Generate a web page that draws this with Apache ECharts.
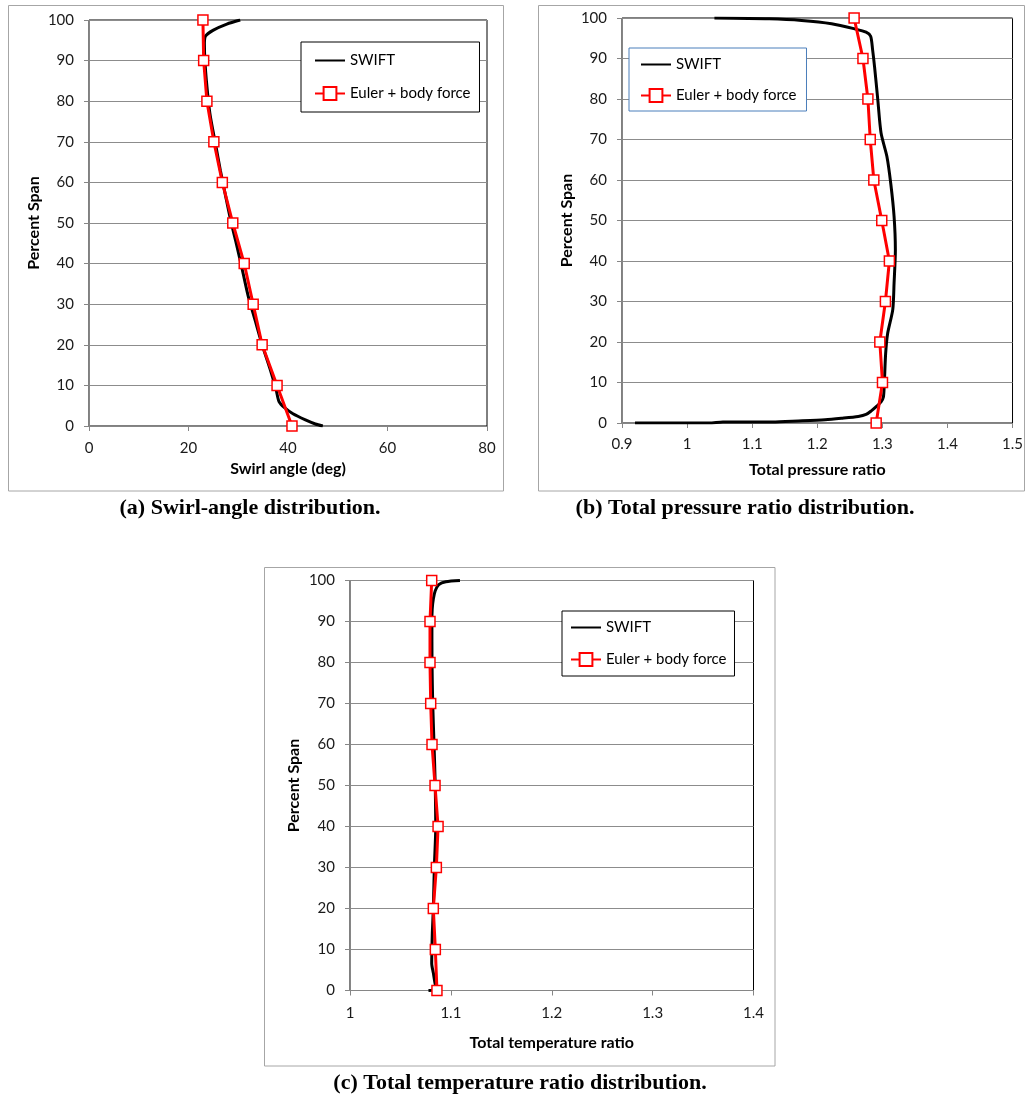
<!DOCTYPE html>
<html>
<head>
<meta charset="utf-8">
<script src="https://cdn.jsdelivr.net/npm/echarts@6/dist/echarts.min.js"></script>
<style>
html,body{margin:0;padding:0;background:#fff;}
#chart{width:1026px;height:1099px;}
</style>
</head>
<body>
<div id="chart"></div>
<script>
// ---------- data ----------
const eulerSpan = [0, 10, 20, 30, 40, 50, 60, 70, 80, 90, 100];

// (a) swirl angle (deg)
const swirlEuler = [40.8, 37.8, 34.8, 33.0, 31.2, 28.9, 26.8, 25.1, 23.7, 23.05, 22.9];
const swirlSwiftX = [47.0, 45.5, 43.5, 41.0, 39.3, 38.2, 37.6, 36.4, 34.8, 33.4, 32.0, 30.9, 29.6, 28.6, 27.4, 26.4, 25.5, 24.3, 23.6, 23.3, 23.2, 23.4, 25.0, 27.7, 30.4];
const swirlSwiftY = [0, 0.5, 1.5, 3, 4.5, 6, 9, 14, 20, 26, 32, 38, 45, 50, 57, 63, 69, 77, 85, 90, 94, 96, 97.5, 99, 100];

// (b) total pressure ratio
const prEuler = [1.2905, 1.3002, 1.2961, 1.3047, 1.3108, 1.2991, 1.2869, 1.2814, 1.2778, 1.2702, 1.2566];
const prSwiftX = [0.92, 1.034, 1.055, 1.131, 1.171, 1.212, 1.237, 1.263, 1.275, 1.283, 1.291, 1.298, 1.3016, 1.303, 1.305, 1.308, 1.316, 1.318, 1.320, 1.318, 1.313, 1.307, 1.298, 1.293, 1.288, 1.285, 1.282, 1.275, 1.258, 1.222, 1.176, 1.126, 1.042];
const prSwiftY = [0, 0, 0.25, 0.25, 0.5, 0.8, 1.15, 1.6, 2.1, 3, 4.1, 5.2, 6.4, 9.7, 17, 22, 28, 34.5, 42.7, 51, 59, 65.8, 71.6, 79.8, 88, 92.2, 95.5, 96.5, 97.3, 98.6, 99.4, 99.8, 100];

// (c) total temperature ratio
const trEuler = [1.0862, 1.0846, 1.0826, 1.0856, 1.0873, 1.0843, 1.0813, 1.0800, 1.0793, 1.0793, 1.0810];
const trSwiftX = [1.0778, 1.0862, 1.0845, 1.0826, 1.0810, 1.0812, 1.0816, 1.0826, 1.0836, 1.0850, 1.0845, 1.0833, 1.0820, 1.0813, 1.0812, 1.0815, 1.0826, 1.0845, 1.0880, 1.0950, 1.1090];
const trSwiftY = [0, 0.3, 1.5, 4.3, 6.6, 9.9, 14, 20, 30, 40, 50, 60, 70, 80, 90, 93, 95.5, 97.5, 99, 99.7, 100];

const legendNames = ['SWIFT', 'Euler + body force'];
const xNames = ['Swirl angle (deg)', 'Total pressure ratio', 'Total temperature ratio'];
const yName = 'Percent Span';
const captions = ['(a) Swirl-angle distribution.', '(b) Total pressure ratio distribution.', '(c) Total temperature ratio distribution.'];

// ---------- helpers ----------
const zip = (xs, ys) => xs.map((v, i) => [v, ys[i]]);
const UI = 'Lato, "Open Sans", sans-serif';
const SERIF = '"Liberation Serif", "DejaVu Serif", serif';

const grids = [
  {left: 89, top: 20, width: 398, height: 406},
  {left: 622, top: 18, width: 394, height: 405},
  {left: 350, top: 580.5, width: 403.5, height: 410}
];
const xRanges = [
  {min: 0, max: 80, interval: 20, gap: 35, margin: 15},
  {min: 0.9, max: 1.5, interval: 0.1, gap: 39, margin: 14},
  {min: 1.0, max: 1.4, interval: 0.1, gap: 44, margin: 15}
];
const yGaps = [47, 47, 48];

const fmt = v => String(Math.round(v * 10) / 10);

const xAxes = xRanges.map((r, i) => ({
  type: 'value', gridIndex: i, min: r.min, max: r.max, interval: r.interval,
  name: xNames[i], nameLocation: 'middle', nameGap: r.gap,
  nameTextStyle: {fontFamily: UI, fontWeight: 'bold', fontSize: 16, color: '#000'},
  axisLine: {show: true, lineStyle: {color: '#868686', width: 1}},
  axisTick: {show: true, inside: false, length: 5, lineStyle: {color: '#868686'}},
  axisLabel: {fontFamily: UI, fontSize: 15, color: '#1a1a1a', margin: r.margin, formatter: fmt},
  splitLine: {show: false}
}));

const yAxes = grids.map((g, i) => ({
  type: 'value', gridIndex: i, min: 0, max: 100, interval: 10,
  name: yName, nameLocation: 'middle', nameGap: yGaps[i], nameRotate: 90,
  nameTextStyle: {fontFamily: UI, fontWeight: 'bold', fontSize: 16, color: '#000'},
  axisLine: {show: true, lineStyle: {color: '#868686', width: 1}},
  axisTick: {show: true, inside: false, length: 5, lineStyle: {color: '#868686'}},
  axisLabel: {fontFamily: UI, fontSize: 15, color: '#1a1a1a', margin: 15},
  splitLine: {show: true, lineStyle: {color: '#8c8c8c', width: 1}}
}));

function swiftSeries(i, data) {
  return {
    type: 'line', name: legendNames[0], xAxisIndex: i, yAxisIndex: i,
    data: data, symbol: 'none', smooth: 0.25, z: 3,
    lineStyle: {color: '#000', width: 3}, itemStyle: {color: '#000'}
  };
}
function eulerSeries(i, data) {
  return {
    type: 'line', name: legendNames[1], xAxisIndex: i, yAxisIndex: i,
    data: data, symbol: 'rect', symbolSize: 10, showSymbol: true, z: 4,
    lineStyle: {color: '#ff0000', width: 3},
    itemStyle: {color: '#ffffff', borderColor: '#ff0000', borderWidth: 1.5}
  };
}

const legendBase = {
  orient: 'vertical', itemWidth: 30, itemHeight: 16,
  textStyle: {fontFamily: UI, fontSize: 15, color: '#000'},
  backgroundColor: '#fff', borderWidth: 1, borderColor: '#000',
  data: [
    {name: legendNames[0], itemStyle: {opacity: 0}},
    {name: legendNames[1]}
  ],
  selectedMode: false
};

const captionStyle = (t, x, y) => ({
  type: 'text',
  style: {text: t, x: x, y: y, textAlign: 'center', textVerticalAlign: 'middle', font: 'bold 22px ' + SERIF, fill: '#000'}
});

const option = {
  animation: false,
  backgroundColor: '#fff',
  graphic: [
    {type: 'rect', shape: {x: 8.5, y: 5.5, width: 495, height: 485.5}, style: {fill: 'none', stroke: '#a6a6a6', lineWidth: 1}, z: -10},
    {type: 'rect', shape: {x: 538.5, y: 5.5, width: 486, height: 485.5}, style: {fill: 'none', stroke: '#a6a6a6', lineWidth: 1}, z: -10},
    {type: 'rect', shape: {x: 264.5, y: 567.5, width: 510.5, height: 498.5}, style: {fill: 'none', stroke: '#a6a6a6', lineWidth: 1}, z: -10},
    captionStyle(captions[0], 250, 508),
    captionStyle(captions[1], 745, 508),
    captionStyle(captions[2], 520, 1083)
  ],
  grid: grids.map(g => Object.assign({show: true, borderColor: '#000', borderWidth: 1, backgroundColor: 'transparent'}, g)),
  xAxis: xAxes,
  yAxis: yAxes,
  legend: [
    Object.assign({}, legendBase, {left: 301, top: 42, itemGap: 18, padding: [11, 9, 11, 13]}),
    Object.assign({}, legendBase, {left: 629, top: 48, itemGap: 16, padding: [9, 10, 8, 11], borderColor: '#4a7ebb'}),
    Object.assign({}, legendBase, {left: 562, top: 611, itemGap: 17, padding: [9, 8, 9, 8]})
  ],
  series: [
    swiftSeries(0, zip(swirlSwiftX, swirlSwiftY)),
    eulerSeries(0, zip(swirlEuler, eulerSpan)),
    swiftSeries(1, zip(prSwiftX, prSwiftY)),
    eulerSeries(1, zip(prEuler, eulerSpan)),
    swiftSeries(2, zip(trSwiftX, trSwiftY)),
    eulerSeries(2, zip(trEuler, eulerSpan))
  ]
};

const chart = echarts.init(document.getElementById('chart'), null, {renderer: 'canvas'});
chart.setOption(option);
</script>
</body>
</html>
